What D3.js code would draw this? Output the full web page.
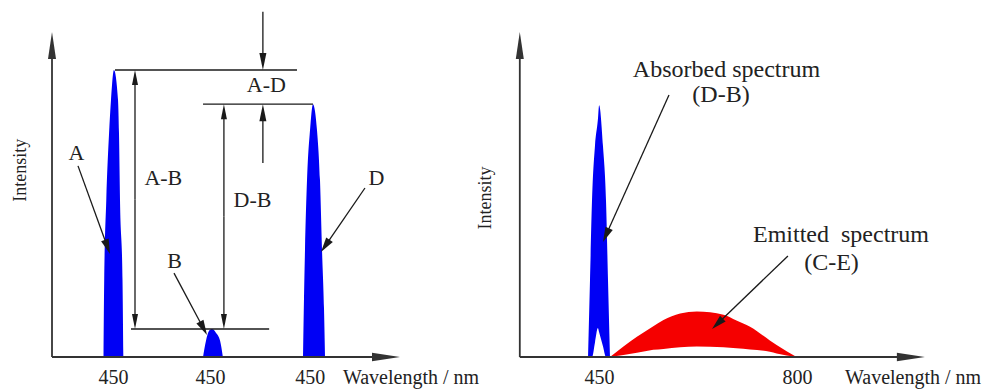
<!DOCTYPE html>
<html>
<head>
<meta charset="utf-8">
<script src="https://cdn.jsdelivr.net/npm/d3@7"></script>
<style>
  body { margin: 0; background: #fff; }
  svg { display: block; }
  text { font-family: "Liberation Serif", "Times New Roman", serif; fill: #222; }
</style>
</head>
<body>
<svg id="chart"></svg>
<script>
// ---- data (left panel x in schematic units 0..100, right panel x in nm, intensity 0..100) ----
const leftTicks = [17.5, 45.4, 74.1];
const leftTickLabels = ["450", "450", "450"];
const rightTicks = [450, 800];
const rightTickLabels = ["450", "800"];
const rightAxisExtent = [310, 1026];

// peak A (incident), peak B (transmitted), peak D (reference)
const peakAX = [14.8, 15.0, 15.6, 16.4, 16.95, 17.8, 18.97, 19.25, 19.54, 20.26, 20.5];
const peakAY = [0, 23.7, 48.3, 68.9, 79.1, 88.3, 79.1, 68.9, 48.3, 23.7, 0];
const peakBX = [43.4, 44.25, 45.1, 45.98, 47.1, 48.3, 49.1];
const peakBY = [0, 5, 8, 8.6, 7.5, 5, 0];
const peakDX = [72.13, 72.41, 72.7, 73.28, 74.14, 75.0, 76.15, 77.01, 77.59, 78.16, 78.45];
const peakDY = [0, 18, 32.9, 54.5, 69.8, 77.8, 69.8, 54.5, 32.9, 15, 0];

// absorbed spectrum (D-B): outer edge and notch
const absorbedNm = [430.6, 434.1, 437.6, 442.9, 448, 450.2, 457, 462.4, 465.9, 469.4];
const absorbedTop = [0, 23.7, 48, 65, 73, 77.5, 65, 48, 23.7, 0];
const absorbedBottom = [0, 0, 0, 4.5, 8.9, 7.6, 3.3, 0, 0, 0];

// emitted spectrum (C-E)
const emittedNm = [469.4, 517, 546, 564, 623, 670, 693, 717, 752, 764, 799.3];
const emittedTop = [0, 6.2, 9.5, 11.4, 14.0, 13.0, 11.2, 9.3, 5.1, 3.7, 0];
const emittedBottom = [0, 1.3, 2.2, 2.5, 3.2, 3.0, 2.7, 2.3, 1.6, 1.1, 0];

// ---- setup ----
const W = 986, H = 391;
const svg = d3.select("#chart").attr("width", W).attr("height", H);

const xL = d3.scaleLinear().domain([0, 100]).range([52, 400]);
const xR = d3.scaleLinear().domain([450, 800]).range([599, 797]);
const y = d3.scaleLinear().domain([0, 100]).range([357, 32]);

const BLUE = "#0000f5", RED = "#f50000", INK = "#1a1a1a";

function arrow(g, x1, y1, x2, y2, len, wid, color, sw) {
    const dx = x2 - x1, dy = y2 - y1, L = Math.hypot(dx, dy);
    const ux = dx / L, uy = dy / L;
    const bx = x2 - ux * len, by = y2 - uy * len;
    g.append("line")
        .attr("x1", x1).attr("y1", y1)
        .attr("x2", bx + ux * 2).attr("y2", by + uy * 2)
        .attr("stroke", color).attr("stroke-width", sw);
    g.append("path")
        .attr("d", "M" + x2 + "," + y2 +
            "L" + (bx - uy * wid / 2) + "," + (by + ux * wid / 2) +
            "L" + (bx + uy * wid / 2) + "," + (by - ux * wid / 2) + "Z")
        .attr("fill", color);
}

// ---- spectra ----
function peakArea(xs, x, top, bottom) {
    return d3.area()
        .x((d, i) => x(xs[i]))
        .y1((d, i) => y(top[i]))
        .y0((d, i) => y(bottom ? bottom[i] : 0))
        .curve(d3.curveMonotoneX)(xs);
}

const marks = svg.append("g");
[[peakAX, peakAY], [peakBX, peakBY], [peakDX, peakDY]].forEach(p => {
    marks.append("path").attr("d", peakArea(p[0], xL, p[1])).attr("fill", BLUE);
});
marks.append("path").attr("d", peakArea(absorbedNm, xR, absorbedTop, absorbedBottom)).attr("fill", BLUE);
marks.append("path").attr("d", peakArea(emittedNm, xR, emittedTop, emittedBottom)).attr("fill", RED);

// ---- axes ----
const axes = svg.append("g");
arrow(axes, xL(0), y(0), xL(0), y(100), 27, 8, "#333", 1.8);
arrow(axes, xL(0), y(0), xL(100), y(0), 28, 8.5, "#333", 1.8);
arrow(axes, xR(rightAxisExtent[0]), y(0), xR(rightAxisExtent[0]), y(100), 27, 8, "#333", 1.8);
arrow(axes, xR(rightAxisExtent[0]), y(0), xR(rightAxisExtent[1]), y(0), 28, 8.5, "#333", 1.8);

function ticks(scale, values, labels) {
    svg.append("g")
        .attr("transform", "translate(0," + y(0) + ")")
        .call(d3.axisBottom(scale).tickValues(values)
            .tickFormat((d, i) => labels[i]).tickSize(0).tickPadding(13))
        .call(g => g.select(".domain").remove())
        .attr("font-family", null)
        .attr("font-size", 20);
}
ticks(xL, leftTicks, leftTickLabels);
ticks(xR, rightTicks, rightTickLabels);

svg.append("text").attr("x", xL(83.6)).attr("y", y(-8.3)).attr("font-size", 20).text("Wavelength / nm");
svg.append("text").attr("x", xR(884.9)).attr("y", y(-8.3)).attr("font-size", 20).text("Wavelength / nm");
svg.append("text").attr("transform", "translate(" + xL(-9.2) + "," + y(57.5) + ") rotate(-90)")
    .attr("text-anchor", "middle").attr("dy", "0.35em").attr("font-size", 18).text("Intensity");
svg.append("text").attr("transform", "translate(" + xR(248.5) + "," + y(48.9) + ") rotate(-90)")
    .attr("text-anchor", "middle").attr("dy", "0.35em").attr("font-size", 18).text("Intensity");

// ---- dimension lines (left panel) ----
const dim = svg.append("g");
const aMax = d3.max(peakAY), bMax = d3.max(peakBY), dMax = d3.max(peakDY);
function hline(u1, u2, v) {
    dim.append("line").attr("x1", xL(u1)).attr("x2", xL(u2))
        .attr("y1", y(v)).attr("y2", y(v)).attr("stroke", INK).attr("stroke-width", 1.4);
}
hline(18.1, 70.4, aMax);
hline(43.4, 75.0, dMax);
hline(22.7, 62.4, bMax);

function doubleArrow(u, v1, v2) {
    const mid = (y(v1) + y(v2)) / 2;
    arrow(dim, xL(u), mid, xL(u), y(v1), 15, 6, INK, 1.3);
    arrow(dim, xL(u), mid, xL(u), y(v2), 15, 6, INK, 1.3);
}
doubleArrow(23.85, aMax, bMax);
doubleArrow(49.4, dMax, bMax);
arrow(dim, xL(60.6), y(106.2), xL(60.6), y(aMax), 17, 7, INK, 1.3);
arrow(dim, xL(60.6), y(59.7), xL(60.6), y(dMax), 17, 7, INK, 1.3);

// ---- labels and pointers ----
const leftLabels = [
    { t: "A", u: 7.0, v: 60.6 },
    { t: "A-B", u: 32.0, v: 52.9 },
    { t: "D-B", u: 57.6, v: 46.2 },
    { t: "A-D", u: 61.6, v: 81.5 },
    { t: "B", u: 35.2, v: 27.4 },
    { t: "D", u: 93.2, v: 52.9 }
];
leftLabels.forEach(d => {
    svg.append("text").attr("x", xL(d.u)).attr("y", y(d.v))
        .attr("text-anchor", "middle").attr("font-size", 22).text(d.t);
});

const rightLabels = [
    { t: "Absorbed spectrum", nm: 675.4, v: 86.2 },
    { t: "(D-B)", nm: 665.7, v: 78.5 },
    { t: "Emitted\u00a0 spectrum", nm: 877.8, v: 35.4 },
    { t: "(C-E)", nm: 861, v: 26.8 }
];
rightLabels.forEach(d => {
    svg.append("text").attr("x", xR(d.nm)).attr("y", y(d.v))
        .attr("text-anchor", "middle").attr("font-size", 24).text(d.t);
});

const ptr = svg.append("g");
arrow(ptr, xL(7.47), y(58.8), xL(16.67), y(31.7), 15, 8, INK, 1.3);
arrow(ptr, xL(35.06), y(25.8), xL(44.54), y(6.8), 15, 8, INK, 1.3);
arrow(ptr, xL(89.94), y(52.0), xL(77.3), y(32.3), 15, 8, INK, 1.3);
arrow(ptr, xR(573.7), y(80.6), xR(457), y(35.4), 15, 8, INK, 1.3);
arrow(ptr, xR(784), y(31.1), xR(649.8), y(8.6), 15, 8, INK, 1.3);
</script>
</body>
</html>
